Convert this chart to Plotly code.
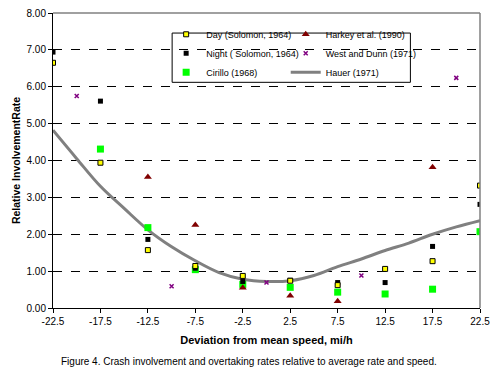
import plotly.graph_objects as go

x_main = [-22.5, -17.5, -12.5, -7.5, -2.5, 2.5, 7.5, 12.5, 17.5, 22.5]
day_vals = [6.65, 3.94, 1.57, 1.14, 0.87, 0.74, 0.62, 1.06, 1.27, 3.32]
night_vals = [6.94, 5.61, 1.86, 1.08, 0.72, 0.75, 0.69, 0.69, 1.67, 2.81]
cirillo_x = [-17.5, -12.5, -7.5, -2.5, 2.5, 7.5, 12.5, 17.5, 22.5]
cirillo_vals = [4.31, 2.18, 1.04, 0.64, 0.56, 0.43, 0.38, 0.51, 2.07]
harkey_x = [-12.5, -7.5, -2.5, 2.5, 7.5, 17.5]
harkey_vals = [3.55, 2.25, 0.55, 0.33, 0.18, 3.82]
west_x = [-20, -10, 0, 10, 20]
west_vals = [5.75, 0.59, 0.69, 0.88, 6.24]
hauer_x = [-22.5, -20, -17.5, -15, -12.5, -10, -7.5, -5, -2.5, 0, 2.5, 5, 7.5, 10, 12.5, 15, 17.5, 20, 22.5]
hauer_vals = [4.82, 4.05, 3.30, 2.70, 2.12, 1.66, 1.28, 0.96, 0.78, 0.72, 0.74, 0.88, 1.12, 1.33, 1.56, 1.76, 2.00, 2.20, 2.37]
x_ticks = [-22.5, -17.5, -12.5, -7.5, -2.5, 2.5, 7.5, 12.5, 17.5, 22.5]
y_ticks = [0, 1, 2, 3, 4, 5, 6, 7, 8]

FONT = "Liberation Sans, Arial, sans-serif"

fig = go.Figure()
fig.add_trace(go.Scatter(x=hauer_x, y=hauer_vals, mode="lines", name="Hauer (1971)",
                         line=dict(color="#808080", width=3, shape="spline"),
                         legend="legend2", legendrank=3))
fig.add_trace(go.Scatter(x=cirillo_x, y=cirillo_vals, mode="markers", name="Cirillo (1968)",
                         marker=dict(symbol="square", size=7, color="#00FF00", line=dict(width=0)),
                         legend="legend", legendrank=3))
fig.add_trace(go.Scatter(x=x_main, y=night_vals, mode="markers", name="Night ( Solomon, 1964)",
                         marker=dict(symbol="square", size=5, color="#000000", line=dict(width=0)),
                         legend="legend", legendrank=2))
fig.add_trace(go.Scatter(x=x_main, y=day_vals, mode="markers", name="Day (Solomon, 1964)",
                         marker=dict(symbol="square", size=5, color="#FFFF00", line=dict(width=1, color="#000000")),
                         legend="legend", legendrank=1))
fig.add_trace(go.Scatter(x=harkey_x, y=harkey_vals, mode="markers", name="Harkey et al. (1990)",
                         marker=dict(symbol="triangle-up", size=7, color="#800000", line=dict(width=0)),
                         legend="legend2", legendrank=1))
fig.add_trace(go.Scatter(x=west_x, y=west_vals, mode="markers", name="West and Dunn (1971)",
                         marker=dict(symbol="x-thin-open", size=4, color="#800080", line=dict(width=1.5, color="#800080")),
                         legend="legend2", legendrank=2))

legfont = dict(family=FONT, size=9, color="#000000")
fig.update_layout(
    width=497, height=369,
    margin=dict(l=53, r=14, t=7, b=61),
    paper_bgcolor="white", plot_bgcolor="white",
    font=dict(family=FONT, size=10, color="#000000"),
    legend=dict(x=0.265, y=0.977, xanchor="left", yanchor="top", font=legfont,
                bgcolor="rgba(0,0,0,0)", borderwidth=0, traceorder="normal",
                itemsizing="trace", tracegroupgap=0, itemwidth=30),
    legend2=dict(x=0.545, y=0.977, xanchor="left", yanchor="top", font=legfont,
                 bgcolor="rgba(0,0,0,0)", borderwidth=0, traceorder="normal",
                 itemsizing="trace", tracegroupgap=0, itemwidth=30),
    xaxis=dict(range=[-22.5, 22.5], tickvals=x_ticks, ticktext=[f"{v:.1f}" for v in x_ticks],
               showgrid=False, zeroline=False, showline=True, linecolor="#000000", linewidth=1,
               ticks="outside", ticklen=4, tickcolor="#000000", tickfont=dict(size=10),
               title=dict(text="<b>Deviation from mean speed, mi/h</b>", font=dict(size=11), standoff=10)),
    yaxis=dict(range=[0, 8], tickvals=y_ticks, ticktext=[f"{v:.2f}" for v in y_ticks],
               showgrid=True, gridcolor="#000000", griddash="dash", gridwidth=1,
               zeroline=False, showline=True, linecolor="#000000", linewidth=1,
               ticks="outside", ticklen=4, tickcolor="#000000", tickfont=dict(size=10),
               title=dict(text="<b>Relative InvolvementRate</b>", font=dict(size=10.5), standoff=3)),
    shapes=[
        dict(type="line", xref="paper", yref="paper", x0=0, x1=1, y0=1, y1=1,
             line=dict(color="#808080", width=1.5)),
        dict(type="line", xref="paper", yref="paper", x0=1, x1=1, y0=0, y1=1,
             line=dict(color="#808080", width=1.5)),
        dict(type="rect", xref="paper", yref="paper", x0=0.279, x1=0.837, y0=0.765, y1=0.932,
             line=dict(color="#000000", width=1), fillcolor="white", layer="below"),
    ],
    annotations=[
        dict(text="Figure 4. Crash involvement and overtaking rates relative to average rate and speed.",
             xref="paper", yref="paper", x=0.46, y=-0.18, xanchor="center", yanchor="middle",
             showarrow=False, font=dict(size=10)),
    ],
)

fig.write_html("out.html", config={"displayModeBar": False},
               post_script="document.body.style.margin='0';")
